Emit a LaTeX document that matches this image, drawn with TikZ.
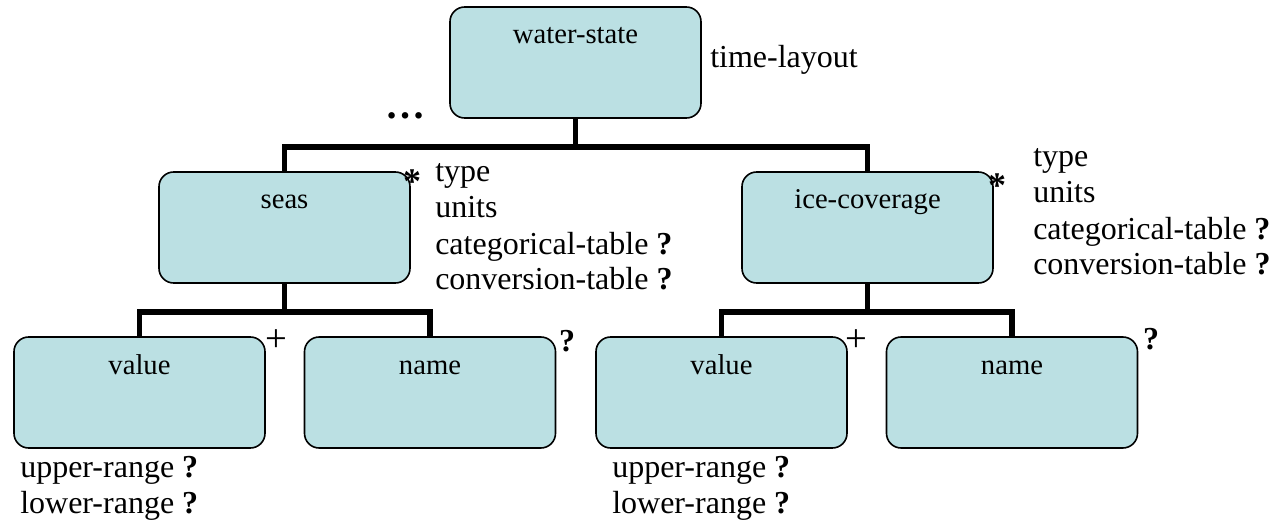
\documentclass[tikz,border=0pt]{standalone}
\usepackage{fontspec}
\setmainfont{Liberation Serif}
\definecolor{boxfill}{HTML}{BBE0E3}
\begin{document}
\begin{tikzpicture}[x=0.75pt,y=-0.75pt,
  box/.style={draw=black, line width=1.2pt, fill=boxfill, rounded corners=11pt,
    minimum width=188.25pt, minimum height=83.25pt, inner sep=0pt},
  conn/.style={line width=4.1pt, line join=miter},
  lbl/.style={font=\fontsize{21.5}{25}\selectfont, anchor=base, inner sep=0pt},
  txt/.style={font=\fontsize{24}{29}\selectfont, anchor=base west, inner sep=0pt},
  sym/.style={font=\fontsize{24}{29}\selectfont, anchor=base, inner sep=0pt},
  plus/.style={font=\fontsize{29}{32}\selectfont, anchor=base, inner sep=0pt},
  star/.style={font=\fontsize{27}{30}\selectfont\bfseries, anchor=base, inner sep=0pt}
]
\useasboundingbox (0,0) rectangle (1275,524);

% boxes
\node[box] (ws)   at (575.5,62.5)  {};
\node[box] (seas) at (284.5,227.5) {};
\node[box] (ice)  at (867.5,227.5) {};
\node[box] (v1)   at (139.5,392.5) {};
\node[box] (n1)   at (430,392.5)   {};
\node[box] (v2)   at (721.5,392.5) {};
\node[box] (n2)   at (1012,392.5)  {};

% box labels
\node[lbl] (wsl)   at (575.5,44)  {water-state};
\node[lbl] (seasl) at (284.5,209) {seas};
\node[lbl] (icel)  at (867.5,209) {ice-coverage};
\node[lbl] (v1l)   at (139.5,374) {value};
\node[lbl] (n1l)   at (430,374)   {name};
\node[lbl] (v2l)   at (721.5,374) {value};
\node[lbl] (n2l)   at (1012,374)  {name};

% connectors
\draw[conn] (ws.south) -- ++(0,30);
\draw[conn] (seas.north) -- ++(0,-24) -| (ice.north);
\draw[conn] (seas.south) -- ++(0,30);
\draw[conn] (v1.north) -- ++(0,-24) -| (n1.north);
\draw[conn] (ice.south) -- ++(0,30);
\draw[conn] (v2.north) -- ++(0,-24) -| (n2.north);

% annotations
\node[font=\fontsize{30}{34}\selectfont\bfseries, anchor=base, inner sep=0pt] (dots) at (405,119) {…};
\node[txt] (tl) at (710,68) {time-layout};

\node[star] (st1) at (412,194) {*};
\node[star] (st2) at (997,198) {*};
\node[plus] (pl1) at (276,351) {+};
\node[plus] (pl2) at (856,351) {+};
\node[sym] (q1)  at (567,351) {\textbf{?}};
\node[sym] (q2)  at (1151,349) {\textbf{?}};

\node[txt] (a1) at (435,182) {type};
\node[txt] (a2) at (435,218) {units};
\node[txt] (a3) at (435,254) {categorical-table \textbf{?}};
\node[txt] (a4) at (435,290) {conversion-table \textbf{?}};

\node[txt] (b1) at (1033,167) {type};
\node[txt] (b2) at (1033,203) {units};
\node[txt] (b3) at (1033,239) {categorical-table \textbf{?}};
\node[txt] (b4) at (1033,275) {conversion-table \textbf{?}};

\node[txt] (c1) at (20,477) {upper-range \textbf{?}};
\node[txt] (c2) at (20,513) {lower-range \textbf{?}};
\node[txt] (d1) at (612,477) {upper-range \textbf{?}};
\node[txt] (d2) at (612,513) {lower-range \textbf{?}};
\end{tikzpicture}
\end{document}
